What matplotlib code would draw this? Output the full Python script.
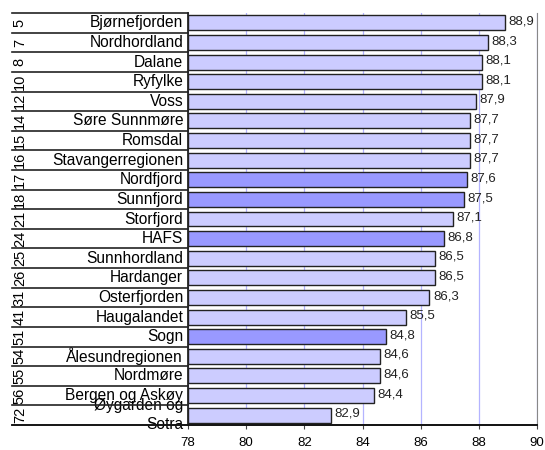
import matplotlib
matplotlib.use('Agg')
import matplotlib.pyplot as plt
import matplotlib.transforms as mtransforms

plt.rcParams['font.family'] = ['Liberation Sans', 'DejaVu Sans']

# data, top to bottom as shown
regions = ['Bjørnefjorden', 'Nordhordland', 'Dalane', 'Ryfylke', 'Voss',
           'Søre Sunnmøre', 'Romsdal', 'Stavangerregionen', 'Nordfjord',
           'Sunnfjord', 'Storfjord', 'HAFS', 'Sunnhordland', 'Hardanger',
           'Osterfjorden', 'Haugalandet', 'Sogn', 'Ålesundregionen',
           'Nordmøre', 'Bergen og Askøy', 'Øygarden og\nSotra']
ranks = [5, 7, 8, 10, 12, 14, 15, 16, 17, 18, 21, 24, 25, 26, 31, 41, 51,
         54, 55, 56, 72]
scores = [88.9, 88.3, 88.1, 88.1, 87.9, 87.7, 87.7, 87.7, 87.6, 87.5, 87.1,
          86.8, 86.5, 86.5, 86.3, 85.5, 84.8, 84.6, 84.6, 84.4, 82.9]
highlight = ['Nordfjord', 'Sunnfjord', 'HAFS', 'Sogn']
xticks = [78, 80, 82, 84, 86, 88, 90]

light = '#CCCCFF'
dark = '#9999FF'

fig = plt.figure(figsize=(5.45, 4.5), dpi=100)
ax = fig.add_axes([0.345, 0.0556, 0.6405, 0.9154])

n = len(regions)
ypos = list(range(n))
colors = [dark if r in highlight else light for r in regions]
ax.barh(ypos, [s - 78 for s in scores], left=78, height=0.76,
        color=colors, edgecolor='#222222', linewidth=1.0, zorder=3)

for y, s in zip(ypos, scores):
    ax.annotate(f'{s:.1f}'.replace('.', ','), (s, y), xytext=(2.5, 1),
                textcoords='offset points', va='center', ha='left',
                fontsize=9.5, color='#222222', zorder=4)

ax.set_xlim(78, 90)
ax.set_ylim(n - 0.5, -0.5)
ax.set_xticks(xticks)
ax.set_xticklabels([str(t) for t in xticks], fontsize=9.5)
ax.set_yticks([])
ax.tick_params(axis='x', length=3, width=0.8, color='#444444', pad=5.5)
ax.grid(axis='x', color='#B4B4FF', linewidth=0.9, zorder=0)

ax.spines['top'].set_visible(False)
ax.spines['right'].set_color('#888888')
ax.spines['left'].set_color('#111111')
ax.spines['left'].set_linewidth(1.2)
ax.spines['bottom'].set_color('#111111')
ax.spines['bottom'].set_linewidth(1.2)

# label table on the left
trans = mtransforms.blended_transform_factory(ax.transAxes, ax.transData)
x_left = (12 - 188) / 349
for i in range(n + 1):
    ax.plot([x_left, 0], [i - 0.5, i - 0.5], color='#222222', linewidth=1.2,
            transform=trans, clip_on=False, zorder=5)
ax.plot([x_left, 1], [n - 0.5, n - 0.5], color='#111111', linewidth=1.2,
        transform=trans, clip_on=False, zorder=5)

for y, name, rk in zip(ypos, regions, ranks):
    ax.text(-0.014, y, name, transform=trans, ha='right', va='center',
            fontsize=11.2, linespacing=1.3)
    ax.text(-0.482, y, str(rk), transform=trans, ha='center', va='center',
            fontsize=10.5, rotation=90)

fig.savefig('out.png', dpi=100)
